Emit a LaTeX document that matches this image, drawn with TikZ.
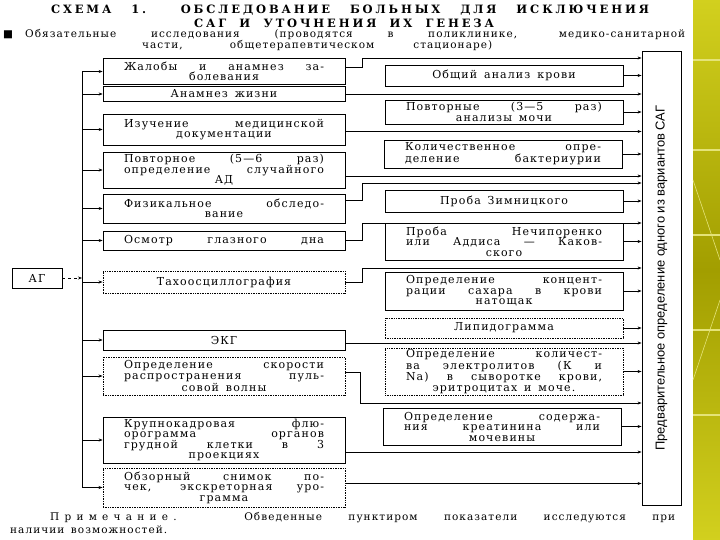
\documentclass[tikz,border=0pt]{standalone}
\usepackage{fontspec}
\setmainfont{DejaVu Serif}[LetterSpace=10, WordSpace=1.5]
\newfontfamily\titlefont{DejaVu Serif}[LetterSpace=25, WordSpace=2]
\newfontfamily\spacedfont{DejaVu Serif}[LetterSpace=50]
\newfontfamily\sidefont{Liberation Sans}
\usepackage{graphicx}
\usetikzlibrary{arrows.meta}
\definecolor{olivelight}{HTML}{D2D01E}
\definecolor{olivedark}{HTML}{A29E00}
% строка, растянутая на всю ширину блока
\newcommand{\fline}[1]{\makebox[\hsize][s]{\spaceskip=0pt\xspaceskip=0pt #1}}

\begin{document}
\begin{tikzpicture}[x=1pt, y=-1pt,
    box/.style={draw, line width=0.7pt, inner sep=0pt, align=flush center,
      font=\fontsize{11}{10.5}\selectfont,
      execute at begin node={\spaceskip=0pt\xspaceskip=0pt}},
    lbox/.style={box, minimum width=242pt, text width=200pt},
    rbox/.style={box, minimum width=238pt, text width=196pt},
    dotbox/.style={densely dotted, line width=0.9pt},
    conn/.style={line width=0.6pt, -{Stealth[length=4pt, width=3pt]}},
    txt/.style={inner sep=0pt, font=\fontsize{10.5}{11}\selectfont}]
        \useasboundingbox (0,0) rectangle (720,540);

        % полоса справа (фон слайда)
        \shade[top color=olivelight, bottom color=olivelight, middle color=olivedark]
            (693,0) rectangle (720,540);
        \draw[olivelight!60!white, line width=1.2pt] (693,60) -- (720,60);
        \draw[olivelight!60!white, line width=1.2pt] (693,150) -- (720,150);
        \draw[olivelight!60!white, line width=1.2pt] (693,235) -- (720,235);
        \draw[olivelight!60!white, line width=1.2pt] (693,330) -- (720,330);
        \draw[olivelight!60!white, line width=1.2pt] (693,415) -- (720,415);
        \draw[olivelight!60!white, line width=0.6pt] (693,180) -- (720,260);
        \draw[olivelight!60!white, line width=0.6pt] (693,380) -- (720,300);

        % заголовок
        \node[txt, font=\titlefont\bfseries\fontsize{11.5}{12}\selectfont] (T1) at (350,10)
            {\makebox[598pt][s]{СХЕМА 1. ОБСЛЕДОВАНИЕ БОЛЬНЫХ ДЛЯ ИСКЛЮЧЕНИЯ}};
        \node[txt, font=\titlefont\bfseries\fontsize{11.5}{12}\selectfont] (T2) at (344,23)
            {\makebox[300pt][s]{САГ И УТОЧНЕНИЯ ИХ ГЕНЕЗА}};
        \node[txt] (bul) at (8,35) {■};
        \node[txt, anchor=west] (T3) at (25,35)
            {\makebox[660pt][s]{Обязательные исследования (проводятся в поликлинике, медико-санитарной}};
        \node[txt, anchor=west] (T4) at (142,46)
            {\makebox[350pt][s]{части, общетерапевтическом стационаре)}};

        % левый столбец
        \node[lbox, minimum height=26pt] (L1) at (224,71.5) {\fline{Жалобы и анамнез за-}\\болевания};
        \node[lbox, minimum height=15pt] (L2) at (224,94) {Анамнез жизни};
        \node[lbox, minimum height=31pt] (L3) at (224,129.5) {\fline{Изучение медицинской}\\документации};
        \node[lbox, minimum height=36pt] (L4) at (224,170) {\fline{Повторное (5—6 раз)}\\\fline{определение случайного}\\АД};
        \node[lbox, minimum height=29pt] (L5) at (224,208.5) {\fline{Физикальное обследо-}\\вание};
        \node[lbox, minimum height=19pt] (L6) at (224,240.5) {\fline{Осмотр глазного дна}};
        \node[lbox, dotbox, minimum height=22pt] (L7) at (224,282) {Тахоосциллография};
        \node[lbox, minimum height=20pt] (L8) at (224,340) {ЭКГ};
        \node[lbox, dotbox, minimum height=38pt] (L9) at (224,376) {\fline{Определение скорости}\\\fline{распространения пуль-}\\совой волны};
        \node[lbox, minimum height=46pt] (L10) at (224,440) {\fline{Крупнокадровая флю-}\\\fline{орограмма органов}\\\fline{грудной клетки в 3}\\проекциях};
        \node[lbox, dotbox, minimum height=39pt] (L11) at (224,487.5) {\fline{Обзорный снимок по-}\\\fline{чек, экскреторная уро-}\\грамма};

        % правый столбец
        \node[rbox, minimum height=21pt] (R1) at (504,75.5) {Общий анализ крови};
        \node[rbox, minimum height=24pt] (R2) at (504,112) {\fline{Повторные (3—5 раз)}\\анализы мочи};
        \node[rbox, minimum height=28pt] (R3) at (503,154) {\fline{Количественное опре-}\\\fline{деление бактериурии}};
        \node[rbox, minimum height=22pt] (R4) at (504,201) {Проба Зимницкого};
        \node[rbox, minimum height=37pt] (R5) at (504,241.5) {\fline{Проба Нечипоренко}\\\fline{или Аддиса — Каков-}\\ского};
        \node[rbox, minimum height=38pt] (R6) at (504,291) {\fline{Определение концент-}\\\fline{рации сахара в крови}\\натощак};
        \node[rbox, dotbox, minimum height=20pt] (R7) at (504,328) {Липидограмма};
        \node[rbox, dotbox, minimum height=47pt] (R8) at (504,371.5) {\fline{Определение количест-}\\\fline{ва электролитов (К и}\\\fline{Na) в сыворотке крови,}\\эритроцитах и моче.};
        \node[rbox, minimum height=37pt] (R9) at (502,426.5) {\fline{Определение содержа-}\\\fline{ния креатинина или}\\мочевины};

        % итоговый блок
        \node[draw, line width=0.9pt, inner sep=0pt, minimum width=39pt, minimum height=454pt] (V) at (661.5,278) {};
        \node[inner sep=0pt, rotate=90] (Vtext) at (V.center)
            {\resizebox{345pt}{!}{\sidefont Предварительное определение одного из вариантов САГ}};

        % АГ и общая шина
        \node[box, minimum width=50pt, minimum height=20pt] (AG) at (37,278) {АГ};
        \coordinate (bus) at (82,0);
        \draw[conn, dashed] (AG.east) -- (AG.east -| bus);
        \draw[line width=1pt] (L1.west -| bus) -- (L11.west -| bus);
        \draw[conn] (L1.west -| bus) -- (L1.west);
        \draw[conn] (L2.west -| bus) -- (L2.west);
        \draw[conn] (L3.west -| bus) -- (L3.west);
        \draw[conn] (L4.west -| bus) -- (L4.west);
        \draw[conn] (L5.west -| bus) -- (L5.west);
        \draw[conn] (L6.west -| bus) -- (L6.west);
        \draw[conn] (L7.west -| bus) -- (L7.west);
        \draw[conn] (L8.west -| bus) -- (L8.west);
        \draw[conn] (L9.west -| bus) -- (L9.west);
        \draw[conn] (L10.west -| bus) -- (L10.west);
        \draw[conn] (L11.west -| bus) -- (L11.west);

        % от левого столбца к итоговому блоку
        \coordinate (k1) at (362,58);
        \coordinate (k5) at (362,183);
        \coordinate (k6) at (362,223);
        \coordinate (k7) at (362,268);
        \coordinate (k9) at (360,403);
        \draw[conn] ([yshift=4.5pt]L1.east) -| (k1) -- (k1 -| V.west);
        \draw[conn] (L2.east) -- (L2.east -| V.west);
        \draw[conn] ([yshift=-2pt]L3.east) -- ([yshift=-2pt]L3.east -| V.west);
        \draw[conn] ([yshift=-6pt]L4.east) -- ([yshift=-6pt]L4.east -| V.west);
        \draw[conn] ([yshift=8pt]L5.east) -| (k5) -- (k5 -| V.west);
        \draw[conn] (L6.east) -| (k6) -- (k6 -| V.west);
        \draw[conn] (L7.east) -| (k7) -- (k7 -| V.west);
        \draw[conn] ([yshift=-3pt]L8.east) -- ([yshift=-3pt]L8.east -| V.west);
        \draw[conn] ([yshift=4pt]L9.east) -| (k9) -- (k9 -| V.west);
        \draw[conn] ([yshift=-12pt]L10.east) -- ([yshift=-12pt]L10.east -| V.west);
        \draw[conn] ([yshift=4pt]L11.east) -- ([yshift=4pt]L11.east -| V.west);

        % от правого столбца
        \draw[conn] (R1.east) -- (R1.east -| V.west);
        \draw[conn] (R2.east) -- (R2.east -| V.west);
        \draw[conn] (R3.east) -- (R3.east -| V.west);
        \draw[conn] (R4.east) -- (R4.east -| V.west);
        \draw[conn] (R5.east) -- (R5.east -| V.west);
        \draw[conn] (R6.east) -- (R6.east -| V.west);
        \draw[conn] (R7.east) -- (R7.east -| V.west);
        \draw[conn] (R8.east) -- (R8.east -| V.west);
        \draw[conn] (R9.east) -- (R9.east -| V.west);

        % примечание
        \node[txt, anchor=west] (N1) at (50,518)
            {\makebox[625pt][s]{{\spacedfont Примечание.} Обведенные пунктиром показатели исследуются при}};
        \node[txt, anchor=west] (N2) at (10,530) {наличии возможностей.};
    \end{tikzpicture}
\end{document}
